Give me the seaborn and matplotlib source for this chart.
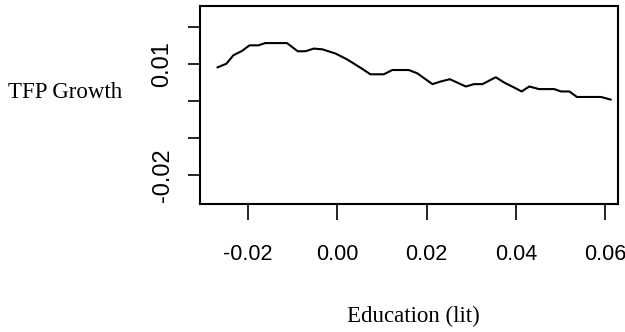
import matplotlib
matplotlib.use("Agg")
import matplotlib.pyplot as plt
import seaborn as sns
import pandas as pd

education = [-0.0269, -0.0249, -0.0233, -0.0214, -0.0197, -0.0177, -0.0162, -0.0113,
             -0.0089, -0.0072, -0.0053, -0.0034, -0.0004, 0.0022, 0.0052, 0.0074,
             0.0104, 0.0123, 0.0160, 0.0179, 0.0213, 0.0231, 0.0252, 0.0288,
             0.0306, 0.0325, 0.0355, 0.0374, 0.0396, 0.0413, 0.0430, 0.0452,
             0.0486, 0.0501, 0.0520, 0.0537, 0.0591, 0.0613]
tfp_growth = [0.0091, 0.0101, 0.0124, 0.01355, 0.01507, 0.01507, 0.01568, 0.01568,
              0.01347, 0.01347, 0.01419, 0.0140, 0.01285, 0.01125, 0.0090, 0.00725,
              0.00725, 0.0084, 0.0084, 0.00752, 0.00459, 0.00528, 0.00592, 0.00395,
              0.00459, 0.00459, 0.00645, 0.00501, 0.00368, 0.00261, 0.00395, 0.00325,
              0.00325, 0.00261, 0.00261, 0.00112, 0.00112, 0.0004]

x_ticks = [-0.02, 0.00, 0.02, 0.04, 0.06]
x_tick_labels = ["-0.02", "0.00", "0.02", "0.04", "0.06"]
y_ticks = [0.02, 0.01, 0.00, -0.01, -0.02]
y_tick_labels = ["", "0.01", "", "", "-0.02"]

df = pd.DataFrame({"Education (lit)": education, "TFP Growth": tfp_growth})

sns.set_style("white")
sans = ["Liberation Sans", "DejaVu Sans"]
serif = ["Liberation Serif", "DejaVu Serif"]

fig = plt.figure(figsize=(6.25, 3.32), dpi=100)
ax = fig.add_axes([200 / 625, 1 - 204 / 332, 418 / 625, 198 / 332])
sns.lineplot(data=df, x="Education (lit)", y="TFP Growth", ax=ax,
             color="black", linewidth=1.5, sort=False)

ax.set_xlim(-0.0308, 0.0629)
ax.set_ylim(-0.0278, 0.0257)
ax.set_xticks(x_ticks)
ax.set_xticklabels(x_tick_labels, family=sans, fontsize=15.5, color="black")
ax.set_yticks(y_ticks)
ax.set_yticklabels(y_tick_labels, family=sans, fontsize=17, rotation=90,
                   va="center", color="black")

for s in ax.spines.values():
    s.set_visible(True)
    s.set_color("black")
    s.set_linewidth(1.5)

ax.tick_params(axis="x", direction="out", length=11.5, width=1.2, pad=17,
               colors="black", bottom=True)
ax.tick_params(axis="y", direction="out", length=9, width=1.2, pad=10,
               colors="black", left=True)

ax.set_xlabel("")
ax.set_ylabel("")
fig.text(8 / 625, 1 - 93 / 332, "TFP Growth", family=serif, fontsize=16.5,
         ha="left", va="center", color="black")
fig.text(413 / 625, 1 - 316 / 332, "Education (lit)", family=serif,
         fontsize=16.5, ha="center", va="center", color="black")

fig.savefig("out.png", dpi=100, facecolor="white")
